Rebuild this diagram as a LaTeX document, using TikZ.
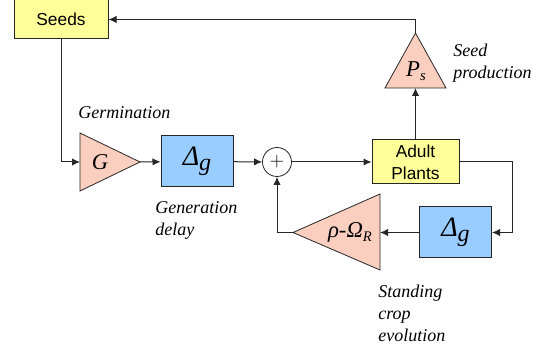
\documentclass[tikz,border=0pt]{standalone}
\usepackage{fontspec}
\setmainfont{Liberation Serif}
\setsansfont{Liberation Sans}
\usetikzlibrary{positioning,arrows.meta,calc}
\definecolor{seedyellow}{HTML}{FFFF99}
\definecolor{gainpink}{HTML}{FBCFC0}
\definecolor{delayblue}{HTML}{99CCFF}
\tikzset{%
  >={Latex[length=6pt,width=5.5pt]},
  block/.style={draw=black!85,rectangle,fill=seedyellow,line width=0.75pt,
    font=\sffamily\fontsize{13}{16.5}\selectfont,align=center,inner sep=0pt},
  delay/.style={draw=black!85,rectangle,fill=delayblue,line width=0.75pt,
    minimum width=54pt,minimum height=38.25pt,inner sep=0pt},
  gain/.style={draw=black!85,fill=gainpink,line width=0.6pt},
  sum/.style={draw=black!85,circle,fill=white,minimum size=21.75pt,inner sep=0pt,line width=0.6pt},
  note/.style={font=\rmfamily\itshape\fontsize{13.5}{16.5}\selectfont,align=left,inner sep=0pt},
  line/.style={draw=black!85,line width=0.75pt,->}
}
\newcommand{\dg}{\fontsize{21}{21}\selectfont\textit{Δ}\raisebox{-0.35ex}{\fontsize{18}{18}\selectfont\textit{g}}}

\begin{document}
\begin{tikzpicture}[x=0.75pt,y=-0.75pt]
  \useasboundingbox (0,0) rectangle (549,352);
  % boxes
  \node[block,minimum width=70.5pt,minimum height=29.25pt] (seeds) at (61,19.5) {Seeds};
  \node[block,minimum width=65.25pt,minimum height=33pt] (adult) at (415.5,162) {Adult\\Plants};
  \node[delay] (dg1) at (197,161.5) {\dg};
  \node[delay] (dg2) at (455.5,232.5) {\dg};
  \node[sum] (sum) at (277,162) {\fontsize{14}{14}\selectfont$+$};
  % gain triangles
  \coordinate (gin) at (80,162);
  \coordinate (gout) at (140,162);
  \draw[gain] (80,133) -- (gout) -- (80,191) -- cycle;
  \node (g) at (100,162) {\fontsize{17}{17}\selectfont\textit{G}};
  \coordinate (psin) at (415.5,88);
  \coordinate (psout) at (415.5,33);
  \draw[gain] (385,88) -- (psout) -- (446,88) -- cycle;
  \node (ps) at (416,71) {\fontsize{17}{17}\selectfont\textit{P}\raisebox{-0.45ex}{\fontsize{11}{11}\selectfont\textit{s}}};
  \coordinate (rin) at (380,232.5);
  \coordinate (rout) at (293,232.5);
  \draw[gain] (380,194) -- (rout) -- (380,270) -- cycle;
  \node (rho) at (350,232) {\fontsize{17}{17}\selectfont\textit{ρ-Ω}\raisebox{-0.45ex}{\fontsize{11}{11}\selectfont\textit{R}}};
  \coordinate (turn) at (512,162);
  % connectors
  \draw[line] (seeds.south) |- (gin);
  \draw[line] (gout) -- (dg1);
  \draw[line] (dg1) -- (sum);
  \draw[line] (sum) -- (adult);
  \draw[line] (adult.north) -- (psin);
  \draw[line] (psout) |- (seeds.east);
  \draw[line] (adult.east) -- (turn) |- (dg2.east);
  \draw[line] (dg2.west) -- (rin);
  \draw[line] (rout) -| (sum.south);
  % labels
  \node[note,anchor=west] (germ) at (78,113) {Germination};
  \node[note,anchor=west] (seedprod) at (453,63.5) {Seed\\production};
  \node[note,anchor=west] (gendel) at (155,220) {Generation\\delay};
  \node[note,anchor=west] (standing) at (378,313) {Standing\\crop\\evolution};
\end{tikzpicture}
\end{document}
